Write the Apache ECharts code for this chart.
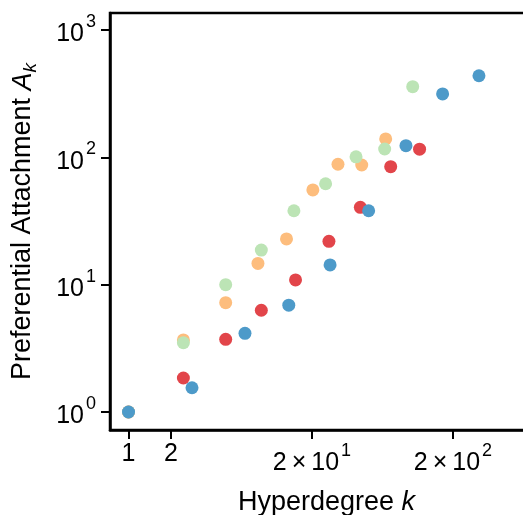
<!DOCTYPE html>
<html><head><meta charset="utf-8">
<script src="https://cdn.jsdelivr.net/npm/echarts@6/dist/echarts.min.js"></script>
<style>html,body{margin:0;padding:0;background:#fff}#c{width:523px;height:515px}</style>
</head><body><div id="c"></div>
<script>
const blueK = [1, 2.82, 6.7, 13.7, 26.9, 50.5, 92.9, 169, 306];
const blueA = [1, 1.55, 4.15, 6.9, 14.3, 38.1, 123.6, 315, 438];
const redK = [1, 2.45, 4.89, 8.75, 15.3, 26.4, 44.1, 72.4, 116];
const redA = [1, 1.85, 3.72, 6.3, 10.9, 21.9, 40.5, 84.6, 116];
const orangeK = [1, 2.45, 4.89, 8.28, 13.2, 20.3, 30.6, 45.1, 66.7];
const orangeA = [1, 3.68, 7.22, 14.7, 22.9, 55.5, 88.3, 87.1, 139.6];
const greenK = [1, 2.45, 4.89, 8.75, 14.9, 25.0, 41.1, 65.6, 103.7];
const greenA = [1, 3.5, 10.0, 18.7, 38.1, 62.1, 101, 116.4, 359];
const xTicks = [1, 2, 20, 200];
const xTickLabels = ['1', '2', '2\u2009×\u200910^1', '2\u2009×\u200910^2'];
const yTicks = [1, 10, 100, 1000];
const yTickLabels = ['10^0', '10^1', '10^2', '10^3'];

const FONT = 'Liberation Sans, Arial, sans-serif';
function fmt(lbl) {
  const p = lbl.split('^');
  if (p.length === 1) return '{b|' + p[0] + '}';
  return '{b|' + p[0] + '}{s|' + p[1] + '}';
}
function pairs(k, a) { return k.map((v, i) => [v, a[i]]); }
const rich = {
  b: {fontSize: 25, fontFamily: FONT, color: '#000', lineHeight: 25, verticalAlign: 'bottom'},
  s: {fontSize: 18, fontFamily: FONT, color: '#000', lineHeight: 34, verticalAlign: 'top', padding: [0, 0, 0, 2]}
};
const chart = echarts.init(document.getElementById('c'), null, {renderer: 'canvas'});
const series = [
  {name: 'red', k: redK, a: redA, c: '#e2454a'},
  {name: 'orange', k: orangeK, a: orangeA, c: '#fdbd7d'},
  {name: 'green', k: greenK, a: greenA, c: '#bce4b5'},
  {name: 'blue', k: blueK, a: blueA, c: '#4d9ac9'}
].map(s => ({
  type: 'scatter', name: s.name, data: pairs(s.k, s.a), symbolSize: 13,
  itemStyle: {color: s.c, opacity: 1}, emphasis: {disabled: true}
}));
chart.setOption({
  animation: false,
  grid: {left: 110, top: 13, width: 433, height: 417, show: true, borderColor: '#000', borderWidth: 2.5, containLabel: false, outerBoundsMode: 'none'},
  xAxis: {
    type: 'log', logBase: 10, min: 0.739, max: 871,
    name: 'Hyperdegree {i|k}', nameLocation: 'middle', nameGap: 59,
    nameTextStyle: {fontSize: 27, fontFamily: FONT, color: '#000', rich: {i: {fontSize: 27, fontFamily: FONT, fontStyle: 'italic', color: '#000'}}},
    axisLine: {show: true, onZero: false, lineStyle: {color: '#000', width: 2.5}},
    axisTick: {show: true, inside: false, length: 9, lineStyle: {color: '#000', width: 2}, customValues: xTicks},
    minorTick: {show: false},
    splitLine: {show: false},
    axisLabel: {margin: 12, customValues: xTicks, color: '#000',
      formatter: v => { const i = xTicks.findIndex(t => Math.abs(t - v) / t < 1e-6); return i >= 0 ? fmt(xTickLabels[i]) : ''; },
      rich: rich, verticalAlign: 'top'}
  },
  yAxis: {
    type: 'log', logBase: 10, min: 0.722, max: 1362,
    name: 'Preferential Attachment {i|A}{sub|k}', nameLocation: 'middle', nameGap: 70,
    nameTextStyle: {fontSize: 27, fontFamily: FONT, color: '#000', rich: {
      i: {fontSize: 27, fontFamily: FONT, fontStyle: 'italic', color: '#000', lineHeight: 34, verticalAlign: 'middle'},
      sub: {fontSize: 19, fontFamily: FONT, fontStyle: 'italic', color: '#000', lineHeight: 34, verticalAlign: 'bottom'}
    }},
    axisLine: {show: true, onZero: false, lineStyle: {color: '#000', width: 2.5}},
    axisTick: {show: true, inside: false, length: 9, lineStyle: {color: '#000', width: 2}, customValues: yTicks},
    minorTick: {show: false},
    splitLine: {show: false},
    axisLabel: {margin: 14, customValues: yTicks, color: '#000',
      formatter: v => { const i = yTicks.findIndex(t => Math.abs(t - v) / t < 1e-6); return i >= 0 ? fmt(yTickLabels[i]) : ''; },
      rich: rich}
  },
  series: series
});
</script></body></html>
